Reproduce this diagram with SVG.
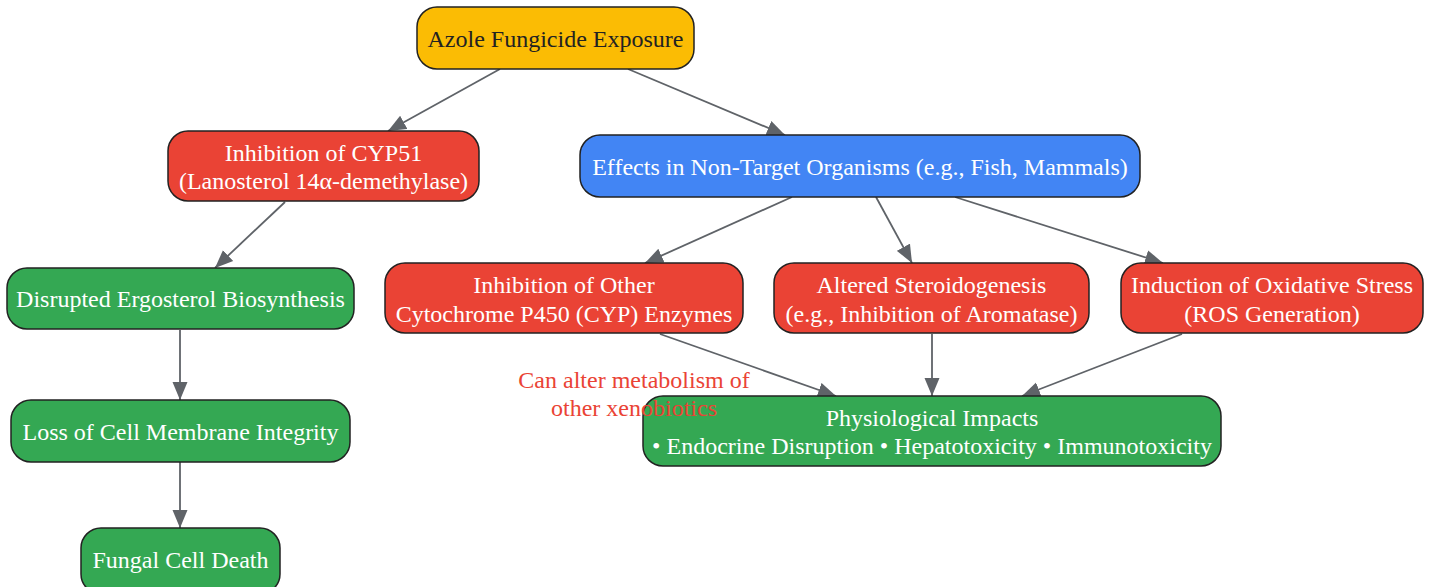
<svg xmlns="http://www.w3.org/2000/svg" width="1434" height="587" viewBox="0 0 1434 587">
<style>
.n rect{stroke:#222;stroke-width:1.5}
.y rect{fill:#FBBC04}
.r rect{fill:#EA4335}
.b rect{fill:#4285F4}
.g rect{fill:#34A853}
text{font-family:"Liberation Serif","Times New Roman",serif;font-size:24px;text-anchor:middle;fill:#fff}
.y text{fill:#222}
.lbl{fill:#EA4335}
.e line{stroke:#5F6368;stroke-width:1.8;marker-end:url(#ah)}
</style>
<defs>
<marker id="ah" markerUnits="userSpaceOnUse" markerWidth="20" markerHeight="16" refX="18" refY="8" orient="auto">
<path d="M0,0.5 L18,8 L0,15.5 Z" fill="#5F6368"/>
</marker>
</defs>
<g id="edges" class="e">
<line x1="500" y1="69" x2="388" y2="131"/>
<line x1="628" y1="69" x2="785" y2="135"/>
<line x1="285" y1="202" x2="215" y2="268"/>
<line x1="180" y1="330" x2="180" y2="400"/>
<line x1="180" y1="462" x2="180" y2="528"/>
<line x1="792" y1="197" x2="645" y2="263"/>
<line x1="876" y1="197" x2="912" y2="263"/>
<line x1="955" y1="197" x2="1163" y2="263"/>
<line x1="660" y1="334" x2="836" y2="396"/>
<line x1="932" y1="334" x2="932" y2="396"/>
<line x1="1182" y1="334" x2="1022" y2="396"/>
</g>
<g id="azole" class="n y"><rect x="417" y="7" width="277" height="62" rx="20"/><text x="555.5" y="47">Azole Fungicide Exposure</text></g>
<g id="cyp51" class="n r"><rect x="168" y="131" width="311" height="70" rx="20"/><text x="323.5" y="161">Inhibition of CYP51</text><text x="323.5" y="189">(Lanosterol 14α-demethylase)</text></g>
<g id="effects" class="n b"><rect x="580" y="135" width="560" height="62" rx="20"/><text x="860" y="175">Effects in Non-Target Organisms (e.g., Fish, Mammals)</text></g>
<g id="ergo" class="n g"><rect x="7" y="268" width="347" height="61" rx="20"/><text x="180.5" y="307">Disrupted Ergosterol Biosynthesis</text></g>
<g id="membrane" class="n g"><rect x="11" y="400" width="339" height="62" rx="20"/><text x="180.5" y="440">Loss of Cell Membrane Integrity</text></g>
<g id="death" class="n g"><rect x="81" y="528" width="199" height="66" rx="20"/><text x="180.5" y="568">Fungal Cell Death</text></g>
<g id="cyp" class="n r"><rect x="385" y="263" width="358" height="70" rx="20"/><text x="564" y="293">Inhibition of Other</text><text x="564" y="322">Cytochrome P450 (CYP) Enzymes</text></g>
<g id="steroid" class="n r"><rect x="774" y="263" width="315" height="70" rx="20"/><text x="931.5" y="293">Altered Steroidogenesis</text><text x="931.5" y="322">(e.g., Inhibition of Aromatase)</text></g>
<g id="ros" class="n r"><rect x="1121" y="263" width="302" height="70" rx="20"/><text x="1272" y="293">Induction of Oxidative Stress</text><text x="1272" y="322">(ROS Generation)</text></g>
<g id="phys" class="n g"><rect x="643" y="396" width="578" height="70" rx="20"/><text x="932" y="426">Physiological Impacts</text><text x="932" y="454">• Endocrine Disruption • Hepatotoxicity • Immunotoxicity</text></g>
<g id="label"><text class="lbl" x="634" y="388">Can alter metabolism of</text><text class="lbl" x="634" y="416">other xenobiotics</text></g>
</svg>
